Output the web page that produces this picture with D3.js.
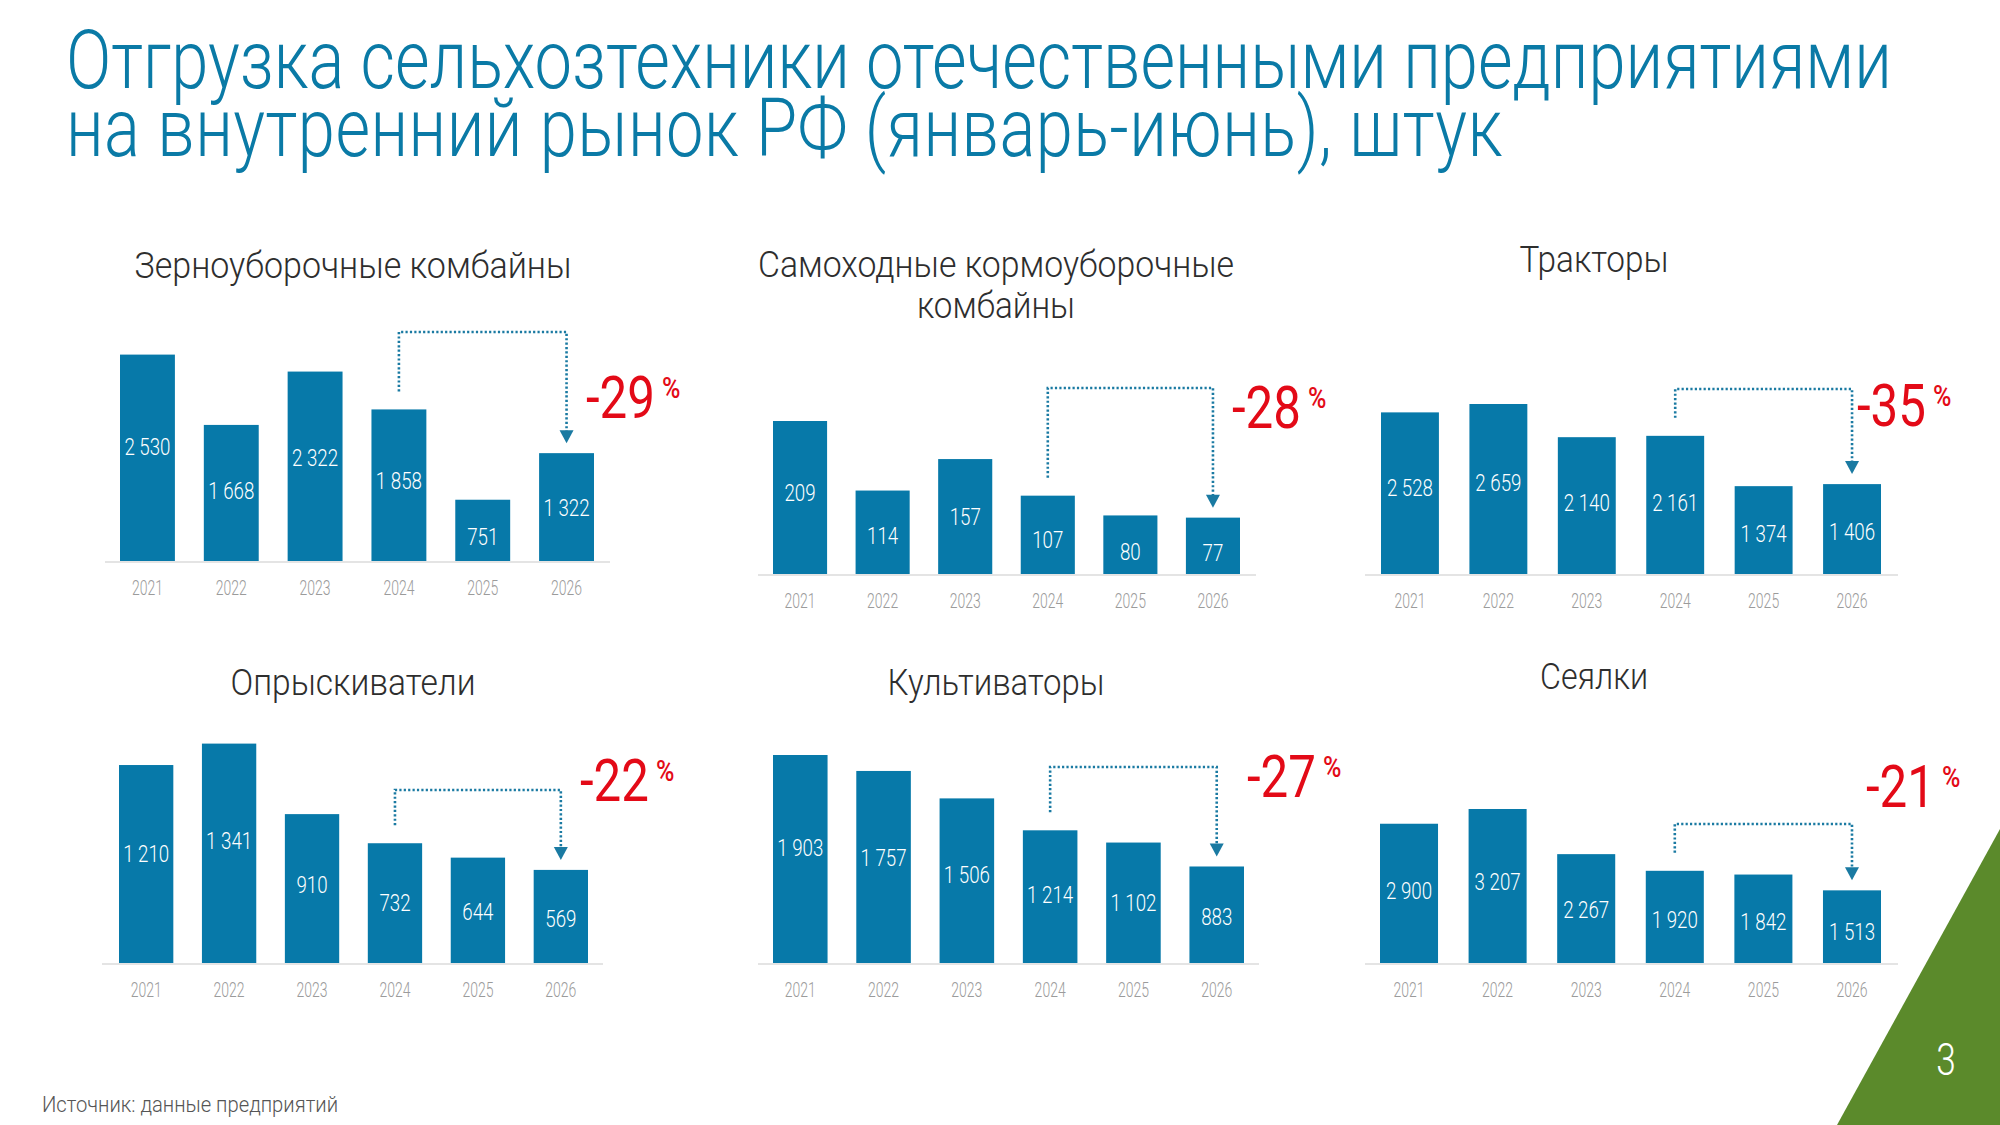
<!DOCTYPE html>
<html><head><meta charset="utf-8">
<script src="https://cdn.jsdelivr.net/npm/d3@7"></script>
<style>body{margin:0;background:#fff} svg{display:block}</style>
</head><body><svg id="c" width="2000" height="1125"></svg>
<script>
// ---- data ----
const years = ["2021","2022","2023","2024","2025","2026"];
const combines    = [2530,1668,2322,1858,751,1322];
const forage      = [209,114,157,107,80,77];
const tractors    = [2528,2659,2140,2161,1374,1406];
const sprayers    = [1210,1341,910,732,644,569];
const cultivators = [1903,1757,1506,1214,1102,883];
const seeders     = [2900,3207,2267,1920,1842,1513];
const seriesList  = [combines, forage, tractors, sprayers, cultivators, seeders];
const panelTitles = [["Зерноуборочные комбайны"],["Самоходные кормоуборочные","комбайны"],["Тракторы"],["Опрыскиватели"],["Культиваторы"],["Сеялки"]];
const changes     = ["-29","-28","-35","-22","-27","-21"];
const mainTitle   = ["Отгрузка сельхозтехники отечественными предприятиями","на внутренний рынок РФ (январь-июнь), штук"];
const sourceText  = "Источник: данные предприятий";
const pageNum     = "3";

// ---- layout ----
const layout = [
 {x0:120,x1:594, ax0:105,ax1:610, base:561, top:354.6, tx:353, ty:[278],    tw:[437],     ly:332, px:586,  py:418},
 {x0:773,x1:1240,ax0:758,ax1:1256,base:574, top:421,   tx:996, ty:[277,318],tw:[476,158], ly:388, px:1232, py:428},
 {x0:1381,x1:1881,ax0:1365,ax1:1898,base:574,top:404,  tx:1594,ty:[272],    tw:[149],     ly:389, px:1857, py:426},
 {x0:119,x1:588, ax0:102,ax1:603, base:963, top:743.6, tx:353, ty:[695],    tw:[245],     ly:790, px:580,  py:801},
 {x0:773,x1:1244,ax0:758,ax1:1259,base:963, top:755,   tx:996, ty:[695],    tw:[217],     ly:767, px:1247, py:797},
 {x0:1380,x1:1881,ax0:1365,ax1:1898,base:963,top:809,  tx:1594,ty:[689],    tw:[108],     ly:824, px:1866, py:807}
];

const BAR = "#0779a9", TITLE = "#0a7aa6", RED = "#e30a17", LINE = "#1a7aa2";
const FONT = "Roboto, 'Noto Sans', sans-serif";
const svg = d3.select("#c");
svg.append("rect").attr("width",2000).attr("height",1125).attr("fill","#fff");

// main title: one text, two lines, horizontally condensed by a transform
const mt = svg.append("text").attr("font-family",FONT).attr("font-weight",300)
  .attr("font-size",82).attr("fill",TITLE);
const mtLines = mainTitle.map((t,i)=> mt.append("tspan").attr("x",0).attr("y",[88,156][i]).text(t));
{
  const w1 = mtLines[0].node().getComputedTextLength();
  const sx = 1826 / w1;
  const w2 = mtLines[1].node().getComputedTextLength();
  const n2 = mainTitle[1].length;
  mtLines[1].attr("letter-spacing", ((1437/sx) - w2)/n2);
  mt.attr("transform",`translate(66,0) scale(${sx},1)`);
}

seriesList.forEach((vals,pi)=>{
  const L = layout[pi];
  const g = svg.append("g");
  const x = d3.scaleBand().domain(years).range([L.x0,L.x1]).paddingInner(0.345).paddingOuter(0);
  const y = d3.scaleLinear().domain([0,d3.max(vals)]).range([L.base,L.top]);
  const data = years.map((yr,i)=>({yr, v:vals[i]}));

  // panel title
  const pt = g.append("text").attr("text-anchor","middle")
    .attr("font-family",FONT).attr("font-weight",300).attr("font-size",37).attr("fill","#2e2e2e");
  panelTitles[pi].forEach((t,li)=>{
    pt.append("tspan").attr("x",L.tx).attr("y",L.ty[li])
      .attr("textLength",L.tw[li]).attr("lengthAdjust","spacingAndGlyphs").text(t);
  });

  // baseline
  g.append("line").attr("x1",L.ax0).attr("x2",L.ax1).attr("y1",L.base+1).attr("y2",L.base+1)
    .attr("stroke","#e4e4e4").attr("stroke-width",2);

  // bars
  g.selectAll("rect.bar").data(data).join("rect").attr("class","bar")
    .attr("x",d=>x(d.yr)).attr("width",x.bandwidth())
    .attr("y",d=>y(d.v)).attr("height",d=>L.base-y(d.v)).attr("fill",BAR);

  // value labels
  const fmt = v => v>=1000 ? Math.floor(v/1000)+" "+String(v%1000).padStart(3,"0") : String(v);
  g.selectAll("text.val").data(data).join("text").attr("class","val")
    .attr("text-anchor","middle").attr("font-family",FONT).attr("font-weight",300).attr("font-size",24).attr("fill","#fff")
    .attr("transform",d=>{
      const h = L.base-y(d.v);
      const cy = y(d.v) + h/2 - 0.12*(h-89) + 3;
      return `translate(${x(d.yr)+x.bandwidth()/2},${cy+8.5}) scale(0.78,1)`;
    })
    .text(d=>fmt(d.v));

  // year axis
  const ax = g.append("g").attr("transform",`translate(0,${L.base+16})`)
    .call(d3.axisBottom(x).tickSize(0).tickPadding(0));
  ax.select(".domain").remove();
  ax.selectAll("text").attr("font-family",FONT).attr("font-weight",300).attr("font-size",20).attr("fill","#9b9b9b")
    .attr("dy","0.71em").attr("y",4).attr("transform","scale(0.7,1)");

  // connector 2024 -> 2026
  const xa = x("2024")+x.bandwidth()/2, xb = x("2026")+x.bandwidth()/2;
  const ya = y(vals[3]) - 18, yb = y(vals[5]) - 10;
  g.append("path").attr("d",`M${xa},${ya}V${L.ly}H${xb}V${yb-11}`)
    .attr("fill","none").attr("stroke",LINE).attr("stroke-width",2.6).attr("stroke-dasharray","2.2,2.2");
  g.append("path").attr("d",`M${xb-7},${yb-13}L${xb+7},${yb-13}L${xb},${yb}Z`).attr("fill",LINE);

  // percent label: one text, condensed, with superscript %
  const pc = g.append("text").attr("font-family",FONT).attr("fill",RED);
  const t1 = pc.append("tspan").attr("x",0).attr("y",0).attr("font-size",59).text(changes[pi]);
  const w = t1.node().getComputedTextLength();
  const s = 69 / w;
  pc.append("tspan").attr("x",76/s).attr("y",-20).attr("font-size",30).attr("font-weight",500).text("%");
  pc.attr("transform",`translate(${L.px},${L.py}) scale(${s},1)`);
});

// source
svg.append("text").attr("x",42).attr("y",1112).attr("font-family",FONT).attr("font-weight",300).attr("font-size",22)
  .attr("fill","#555").attr("textLength",296).attr("lengthAdjust","spacingAndGlyphs").text(sourceText);

// green corner
svg.append("path").attr("d","M2000,829L2000,1125L1837,1125Z").attr("fill","#5b8a2b");
svg.append("text").attr("x",1946).attr("y",1075).attr("text-anchor","middle")
  .attr("font-family",FONT).attr("font-weight",300).attr("font-size",44).attr("fill","#fff")
  .attr("transform","translate(1946,0) scale(0.8,1) translate(-1946,0)").text(pageNum);
</script></body></html>
